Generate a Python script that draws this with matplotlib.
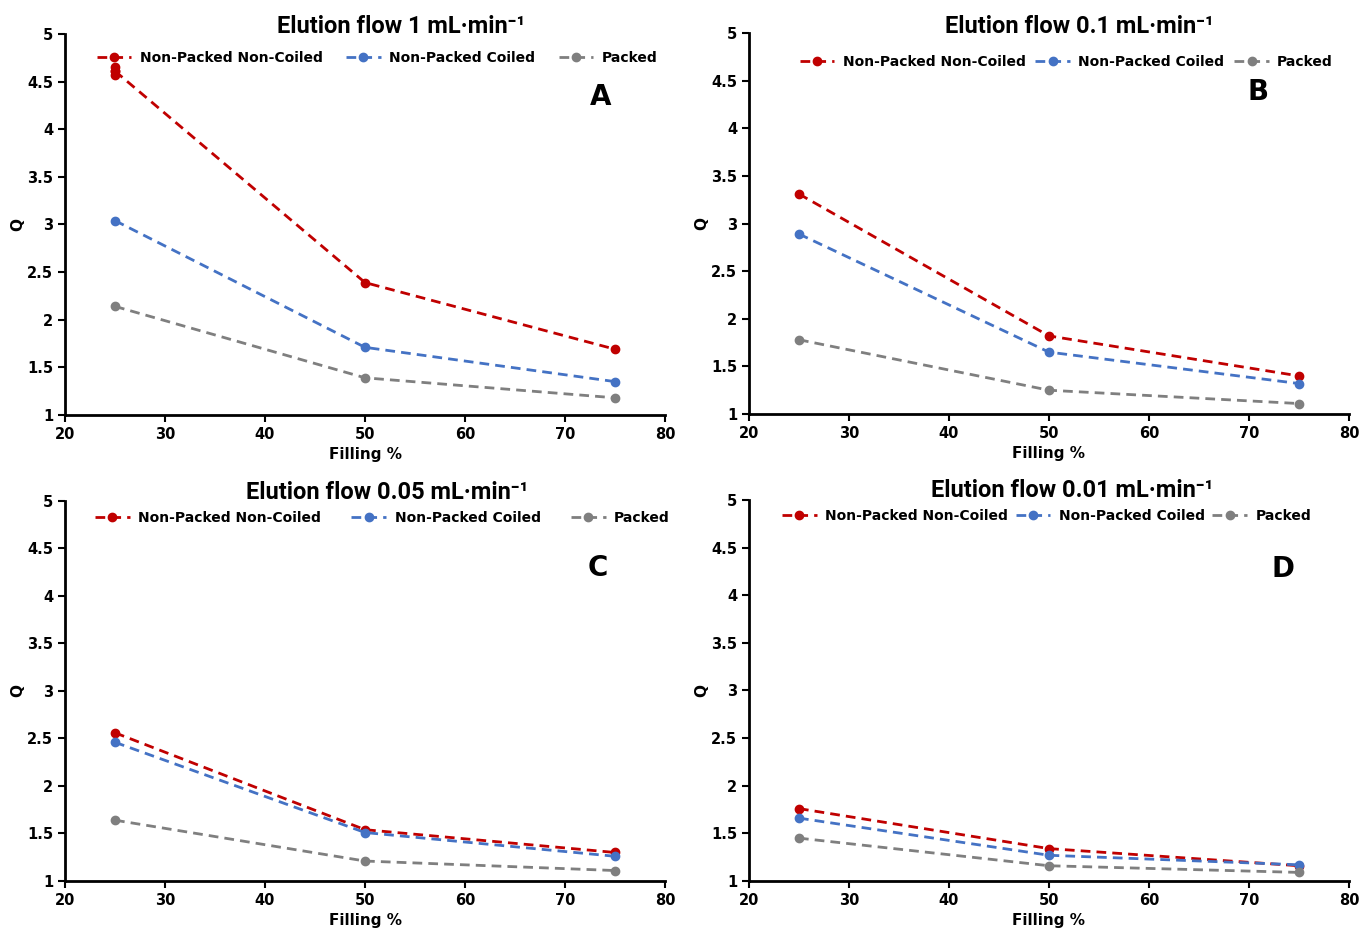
import numpy as np
import matplotlib.pyplot as plt
from matplotlib import font_manager

# filling percentage (x) and Q values
filling = [25, 50, 75]

a_npnc = [4.61, 2.39, 1.69]
a_npc = [3.04, 1.71, 1.35]
a_packed = [2.14, 1.39, 1.18]
a_npnc_reps = [4.65, 4.61, 4.57]  # replicates at 25 %

b_npnc = [3.31, 1.82, 1.40]
b_npc = [2.89, 1.65, 1.32]
b_packed = [1.78, 1.25, 1.11]

c_npnc = [2.56, 1.54, 1.30]
c_npc = [2.46, 1.51, 1.26]
c_packed = [1.64, 1.21, 1.11]

d_npnc = [1.76, 1.34, 1.16]
d_npc = [1.66, 1.27, 1.17]
d_packed = [1.45, 1.16, 1.09]

series_names = ["Non-Packed Non-Coiled", "Non-Packed Coiled", "Packed"]
colors = ["#C00000", "#4472C4", "#7F7F7F"]
flows = ["1", "0.1", "0.05", "0.01"]
letters = ["A", "B", "C", "D"]
yticks = [1, 1.5, 2, 2.5, 3, 3.5, 4, 4.5, 5]
ytick_labels = ["1", "1.5", "2", "2.5", "3", "3.5", "4", "4.5", "5"]
xticks = [20, 30, 40, 50, 60, 70, 80]

panels = [
    (a_npnc, a_npc, a_packed),
    (b_npnc, b_npc, b_packed),
    (c_npnc, c_npc, c_packed),
    (d_npnc, d_npc, d_packed),
]

# axes rectangles in figure fractions
rects = [
    [0.0478, 0.5538, 0.4412, 0.4097],
    [0.5507, 0.5548, 0.4412, 0.4097],
    [0.0478, 0.0527, 0.4412, 0.4086],
    [0.5507, 0.0527, 0.4412, 0.4097],
]
title_pos = [(0.56, 1.02), (0.55, 1.018), (0.537, 1.022), (0.538, 1.025)]
legend_pos = [(0.52, 0.937), (0.529, 0.924), (0.529, 0.955), (0.496, 0.958)]
legend_spacing = [1.7, 0.7, 2.2, 0.55]
letter_pos = [(0.892, 0.835), (0.848, 0.845), (0.888, 0.824), (0.89, 0.82)]

installed = {f.name for f in font_manager.fontManager.ttflist}
narrow = "Liberation Sans Narrow" if "Liberation Sans Narrow" in installed else "Roboto"
title_font = [narrow, "DejaVu Sans"]

fig = plt.figure(figsize=(13.6, 9.3), dpi=100)

for i, (vals, rect) in enumerate(zip(panels, rects)):
    ax = fig.add_axes(rect)
    for name, y, c in zip(series_names, vals, colors):
        ax.plot(filling, y, linestyle=(0, (3.5, 2.2)), color=c, lw=2,
                marker="o", markersize=6, label=name)
    if i == 0:
        ax.scatter([25] * len(a_npnc_reps), a_npnc_reps, color=colors[0],
                   s=36, zorder=3)

    ax.set_xlim(20, 80)
    ax.set_ylim(1, 5)
    ax.set_xticks(xticks)
    ax.set_xticklabels([str(t) for t in xticks])
    ax.set_yticks(yticks)
    ax.set_yticklabels(ytick_labels)
    for side in ["top", "right"]:
        ax.spines[side].set_visible(False)
    for side in ["left", "bottom"]:
        ax.spines[side].set_linewidth(2)
    ax.tick_params(direction="out", length=5, width=1.5, labelsize=10.5)
    for lab in ax.get_xticklabels() + ax.get_yticklabels():
        lab.set_fontweight("bold")

    ax.set_xlabel("Filling %", fontsize=11, fontweight="bold", labelpad=4)
    ax.set_ylabel("Q", fontsize=11, fontweight="bold", labelpad=1)

    ax.text(title_pos[i][0], title_pos[i][1],
            "Elution flow " + flows[i] + " mL·min⁻¹",
            transform=ax.transAxes, ha="center", va="center",
            fontsize=17, fontweight="bold", family=title_font)
    ax.legend(loc="center", bbox_to_anchor=legend_pos[i], ncol=3,
              frameon=False, handlelength=2.5,
              columnspacing=legend_spacing[i], handletextpad=0.6,
              prop={"weight": "bold", "size": 10})
    ax.text(letter_pos[i][0], letter_pos[i][1], letters[i],
            transform=ax.transAxes, ha="center", va="center",
            fontsize=20, fontweight="bold")

fig.savefig("out.png", dpi=100)
